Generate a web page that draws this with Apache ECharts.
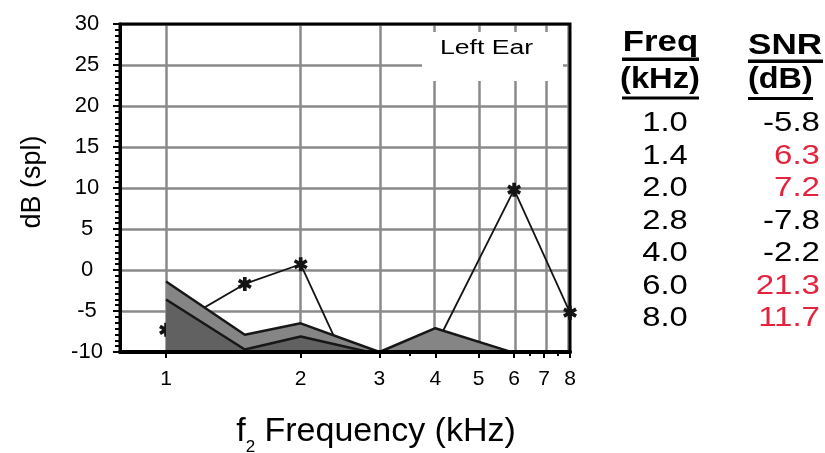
<!DOCTYPE html>
<html>
<head>
<meta charset="utf-8">
<script src="https://cdn.jsdelivr.net/npm/echarts@6/dist/echarts.min.js"></script>
<style>
  html, body { margin: 0; padding: 0; background: #ffffff; }
  #chart { width: 825px; height: 453px; }
</style>
</head>
<body>
<div id="chart"></div>
<script>
// f2 frequencies of the measured points (kHz)
const freqs = [1, 1.5, 2, 3, 4, 6, 8];
// distortion-product level (dB SPL)
const dpLevel = [-7.3, -1.7, 0.7, -20.1, -9.3, 9.8, -5.2];
// upper edge of the noise band (noise floor + 2 SD)
const noiseUpper = [-1.4, -7.9, -6.5, -10.0, -7.1, -10.1, -12.0];
// lower edge of the noise band (mean noise floor)
const noiseLower = [-3.6, -9.7, -8.1, -10.3, -12.5, -13.0, -15.0];

// frequency axis
const freqRange = [0.789, 8];
const freqTicks = [1, 2, 3, 4, 5, 6, 7, 8];
const freqMinorTicks = [3.5, 6.5, 7.5];
// level axis
const levelMin = -10, levelMax = 30, levelStep = 5;

// SNR table
const tableFreqs = ['1.0', '1.4', '2.0', '2.8', '4.0', '6.0', '8.0'];
const tableSnr = [-5.8, 6.3, 7.2, -7.8, -2.2, 21.3, 11.7];
const snrPassLimit = 6;

const FONT = '"Liberation Sans", Arial, Helvetica, sans-serif';
const lg = Math.log10;

// six-armed asterisk marker
const STAR = 'path://M-2.6,-10L2.6,-10L2.6,10L-2.6,10Z' +
  'M7.36,-7.25L9.96,-2.75L-7.36,7.25L-9.96,2.75Z' +
  'M-9.96,-2.75L-7.36,-7.25L9.96,2.75L7.36,7.25Z';

const toPoints = (vals) => freqs.map((f, i) => [lg(f), vals[i]]);

// ---- SNR table built as graphic text ----
const tableEls = [];
function txt(x, y, text, opts) {
  tableEls.push({
    type: 'text', x: x, y: y, scaleX: opts.scaleX || 1, z: 10,
    style: {
      text: text, x: 0, y: 0,
      fontSize: opts.size, fontWeight: opts.weight || 'normal', fontFamily: FONT,
      fill: opts.color || '#000',
      align: opts.align, textAlign: opts.align,
      verticalAlign: 'middle', textVerticalAlign: 'middle'
    }
  });
}
function bar(x, y, w, h) {
  tableEls.push({ type: 'rect', z: 10, shape: { x: x, y: y, width: w, height: h }, style: { fill: '#000' } });
}
txt(660.5, 42.8, 'Freq', { size: 30, weight: 'bold', align: 'center', scaleX: 1.16 });
bar(622, 57.5, 77, 3.5);
txt(660, 79.5, '(kHz)', { size: 30, weight: 'bold', align: 'center', scaleX: 1.09 });
bar(622, 96.5, 77, 3);
txt(748, 46.2, 'SNR', { size: 30, weight: 'bold', align: 'left', scaleX: 1.17 });
bar(748, 59.5, 75, 3.5);
txt(748, 79.5, '(dB)', { size: 30, weight: 'bold', align: 'left', scaleX: 1.08 });
bar(748, 97, 65, 3);
tableFreqs.forEach((f, i) => {
  const y = 123.5 + i * 32.5;
  txt(665, y, f, { size: 28, align: 'center', scaleX: 1.17 });
  const v = tableSnr[i];
  txt(820, y, v.toFixed(1), { size: 28, align: 'right', scaleX: 1.18,
    color: v >= snrPassLimit ? '#e4233d' : '#000' });
});

// "Left Ear" panel in the upper right of the plot
const panelEls = [
  { type: 'rect', z: 3, shape: { x: 422, y: 32, width: 141, height: 49 }, style: { fill: '#ffffff' } },
  { type: 'text', x: 486.5, y: 48.5, scaleX: 1.33, z: 4,
    style: { text: 'Left Ear', x: 0, y: 0, fontSize: 20, fontFamily: FONT, fill: '#000',
      align: 'center', textAlign: 'center', verticalAlign: 'middle', textVerticalAlign: 'middle' } }
];

const chart = echarts.init(document.getElementById('chart'), null, { renderer: 'canvas' });

chart.setOption({
  animation: false,
  backgroundColor: '#ffffff',
  grid: {
    left: 120, right: 255, top: 24, bottom: 101,
    show: true, z: 1.5,
    borderColor: '#000', borderWidth: 3, backgroundColor: 'transparent',
    containLabel: false, outerBoundsMode: 'none'
  },
  xAxis: [{
    type: 'value',
    min: lg(freqRange[0]), max: lg(freqRange[1]),
    z: 10,
    name: '{i|f}{s|2}{i| Frequency (kHz)}',
    nameLocation: 'middle', nameGap: 55, nameMoveOverlap: false,
    nameTextStyle: {
      color: '#000', fontSize: 34, fontFamily: FONT, padding: [0, 0, 0, 62],
      rich: {
        i: { fontSize: 34, lineHeight: 38, fontFamily: FONT, color: '#000' },
        s: { fontSize: 17, lineHeight: 49, verticalAlign: 'bottom', fontFamily: FONT, color: '#000' }
      }
    },
    axisLine: { show: true, onZero: false, lineStyle: { color: '#000', width: 4 } },
    axisTick: { show: true, customValues: freqTicks.map(lg), length: 6, lineStyle: { color: '#000', width: 2 } },
    axisLabel: {
      show: true, customValues: freqTicks.map(lg), margin: 17,
      fontSize: 21, fontFamily: FONT, color: '#000',
      formatter: (v) => String(Math.round(Math.pow(10, v)))
    },
    splitLine: { show: false }
  }, {
    // short intermediate ticks under the frequency axis
    type: 'value', gridIndex: 0, position: 'bottom', offset: 0,
    min: lg(freqRange[0]), max: lg(freqRange[1]),
    z: 10,
    axisLine: { show: false, onZero: false },
    axisTick: { show: true, customValues: freqMinorTicks.map(lg), length: 4, lineStyle: { color: '#000', width: 2 } },
    axisLabel: { show: false },
    splitLine: { show: false }
  }],
  yAxis: {
    type: 'value',
    min: levelMin, max: levelMax, interval: levelStep,
    name: 'dB (spl)', nameLocation: 'middle', nameRotate: 90, nameGap: 74, nameMoveOverlap: false,
    nameTextStyle: { color: '#000', fontSize: 27, fontFamily: FONT, padding: [0, 0, 0, 12] },
    axisLine: { show: true, onZero: false, lineStyle: { color: '#000', width: 3 } },
    axisTick: { show: true, length: 7, lineStyle: { color: '#000', width: 2 } },
    minorTick: { show: true, splitNumber: 7, length: 5, lineStyle: { color: '#000', width: 2 } },
    axisLabel: { fontSize: 22, fontFamily: FONT, color: '#000', align: 'center', margin: 33 },
    splitLine: { show: true, lineStyle: { color: '#8a8a8a', width: 2.5 } },
    minorSplitLine: { show: false }
  },
  graphic: { elements: tableEls.concat(panelEls) },
  series: [
    {
      // vertical frequency grid lines
      name: 'freqGrid', type: 'line', data: [], z: 1, silent: true,
      markLine: {
        z: 1, silent: true, animation: false,
        symbol: ['none', 'none'],
        label: { show: false },
        lineStyle: { color: '#8a8a8a', width: 2.5, type: 'solid' },
        data: freqTicks.map((f) => ({ xAxis: lg(f) }))
      }
    },
    {
      name: 'DP', type: 'line', z: 2, clip: true,
      data: toPoints(dpLevel),
      symbol: STAR, symbolSize: 14, showAllSymbol: true,
      itemStyle: { color: '#141414' },
      lineStyle: { color: '#141414', width: 1.8 }
    },
    {
      name: 'Noise + 2SD', type: 'line', z: 3, clip: true,
      data: toPoints(noiseUpper),
      symbol: 'none',
      lineStyle: { color: '#171717', width: 2.5 },
      areaStyle: { color: '#858585', opacity: 1, origin: 'start' }
    },
    {
      name: 'Noise', type: 'line', z: 4, clip: true,
      data: toPoints(noiseLower),
      symbol: 'none',
      lineStyle: { color: '#171717', width: 2.5 },
      areaStyle: { color: '#616161', opacity: 1, origin: 'start' }
    }
  ]
});
</script>
</body>
</html>
